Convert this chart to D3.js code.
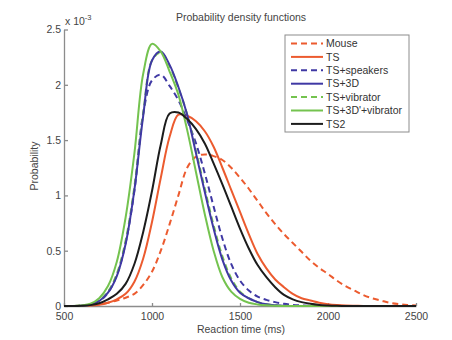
<!DOCTYPE html>
<html>
<head>
<meta charset="utf-8">
<script src="https://cdn.jsdelivr.net/npm/d3@7"></script>
<style>
  body { margin: 0; background: #fff; }
  svg { font-family: "Liberation Sans", Arial, sans-serif; }
  .axis path, .axis line { stroke: #8c8c8c; stroke-width: 1.3; }
  .axis text { fill: #444; font-size: 10.5px; }
</style>
</head>
<body>
<div id="chart"></div>
<script>
// reaction time sample points (ms)
const reactionTime = [500, 550, 600, 650, 700, 750, 800, 850, 900, 950, 1000, 1050, 1100, 1150, 1200,
    1250, 1300, 1350, 1400, 1450, 1500, 1550, 1600, 1650, 1700, 1750, 1800, 1850, 1900, 1950, 2000,
    2050, 2100, 2150, 2200, 2250, 2300, 2350, 2400, 2450, 2500];

// probability density, in units of 1e-3
const mouse = [0, 0, 0.002, 0.006, 0.015, 0.03, 0.05, 0.075, 0.11, 0.19, 0.31, 0.50, 0.74, 1.00, 1.25,
    1.35, 1.37, 1.355, 1.32, 1.25, 1.16, 1.06, 0.95, 0.84, 0.74, 0.65, 0.57, 0.49, 0.41, 0.345, 0.29,
    0.23, 0.18, 0.14, 0.10, 0.07, 0.05, 0.03, 0.018, 0.01, 0.005];
const ts = [0, 0, 0.001, 0.004, 0.012, 0.03, 0.06, 0.11, 0.22, 0.43, 0.76, 1.16, 1.53, 1.73, 1.72,
    1.67, 1.58, 1.44, 1.25, 1.05, 0.85, 0.65, 0.47, 0.34, 0.24, 0.17, 0.11, 0.07, 0.05, 0.03, 0.017,
    0.009, 0.004, 0.002, 0.001, 0, 0, 0, 0, 0, 0];
const tsSpeakers = [0, 0, 0.003, 0.012, 0.045, 0.12, 0.28, 0.57, 1.04, 1.74, 2.04, 2.09, 1.99, 1.86, 1.68,
    1.47, 1.20, 0.90, 0.61, 0.38, 0.23, 0.14, 0.085, 0.055, 0.035, 0.02, 0.01, 0.005, 0.002, 0.001, 0,
    0, 0, 0, 0, 0, 0, 0, 0, 0, 0];
const ts3d = [0, 0, 0.003, 0.012, 0.045, 0.12, 0.27, 0.56, 1.05, 1.72, 2.22, 2.30, 2.18, 1.98, 1.73,
    1.38, 1.03, 0.70, 0.42, 0.23, 0.12, 0.07, 0.035, 0.015, 0.006, 0.002, 0, 0, 0, 0, 0,
    0, 0, 0, 0, 0, 0, 0, 0, 0, 0];
const tsVibrator = [0, 0, 0.003, 0.013, 0.05, 0.13, 0.29, 0.59, 1.08, 1.74, 2.22, 2.29, 2.17, 1.97, 1.73,
    1.40, 1.06, 0.73, 0.45, 0.25, 0.13, 0.07, 0.035, 0.015, 0.006, 0.002, 0, 0, 0, 0, 0,
    0, 0, 0, 0, 0, 0, 0, 0, 0, 0];
const ts3dVibrator = [0, 0, 0.005, 0.02, 0.07, 0.18, 0.40, 0.80, 1.38, 2.10, 2.37, 2.30, 2.12, 1.91, 1.59,
    1.21, 0.83, 0.50, 0.26, 0.13, 0.065, 0.03, 0.014, 0.006, 0.002, 0, 0, 0, 0, 0, 0,
    0, 0, 0, 0, 0, 0, 0, 0, 0, 0];
const ts2 = [0, 0, 0.002, 0.008, 0.025, 0.06, 0.11, 0.20, 0.38, 0.67, 1.04, 1.46, 1.74, 1.75, 1.69,
    1.60, 1.47, 1.29, 1.10, 0.90, 0.70, 0.52, 0.37, 0.26, 0.17, 0.10, 0.06, 0.035, 0.02, 0.01, 0.005,
    0.002, 0, 0, 0, 0, 0, 0, 0, 0, 0];

const xTicks = [500, 1000, 1500, 2000, 2500];
const yTicks = [0, 0.5, 1, 1.5, 2, 2.5];

const seriesNames = ['Mouse', 'TS', 'TS+speakers', 'TS+3D', 'TS+vibrator', "TS+3D'+vibrator", 'TS2'];
const seriesValues = [mouse, ts, tsSpeakers, ts3d, tsVibrator, ts3dVibrator, ts2];
const seriesColors = ['#ec5b2f', '#ec5b2f', '#3f38a4', '#3f38a4', '#74c34f', '#74c34f', '#1c1c1c'];
const seriesDashed = [true, false, true, false, true, false, false];
// draw order (green dashed sits under the blue solid)
const drawOrder = [0, 1, 2, 4, 3, 5, 6];

const width = 452, height = 340;
const margin = {top: 29.5, right: 36, bottom: 34, left: 64};
const plotW = width - margin.left - margin.right;
const plotH = height - margin.top - margin.bottom;

const svg = d3.select('#chart').append('svg')
    .attr('width', width).attr('height', height);

const x = d3.scaleLinear().domain([500, 2500]).range([0, plotW]);
const y = d3.scaleLinear().domain([0, 2.5]).range([plotH, 0]);

const chart = svg.append('g')
    .attr('transform', `translate(${margin.left}, ${margin.top})`);

// axes, ticks pointing inwards
chart.append('g').attr('class', 'axis axis-x')
    .attr('transform', `translate(0, ${plotH})`)
    .call(d3.axisBottom(x).tickValues(xTicks).tickSize(-3).tickSizeOuter(0).tickPadding(5).tickFormat(d3.format('d')))
    .selectAll('text').attr('dy', '0.9em');

chart.append('g').attr('class', 'axis axis-y')
    .call(d3.axisLeft(y).tickValues(yTicks).tickSize(-4).tickSizeOuter(0).tickPadding(3).tickFormat(d => String(d)));

// curves
const line = d3.line()
    .x((d, i) => x(reactionTime[i]))
    .y(d => y(Math.max(0, d)))
    .curve(d3.curveCatmullRom.alpha(0.5));

chart.selectAll('.curve')
    .data(drawOrder)
    .enter()
    .append('path')
    .attr('class', 'curve')
    .attr('d', k => line(seriesValues[k]))
    .attr('fill', 'none')
    .attr('stroke', k => seriesColors[k])
    .attr('stroke-width', 2)
    .attr('stroke-dasharray', k => seriesDashed[k] ? '6,4' : null);

// exponent label
const expo = svg.append('text')
    .attr('x', margin.left + 1).attr('y', 25)
    .attr('fill', '#444').style('font-size', '10.5px');
expo.append('tspan').text('x 10');
expo.append('tspan').attr('dy', -5).style('font-size', '7.5px').text('-3');

// title and axis labels
svg.append('text')
    .attr('x', 241).attr('y', 21)
    .attr('text-anchor', 'middle')
    .attr('fill', '#444').style('font-size', '10.5px')
    .text('Probability density functions');

svg.append('text')
    .attr('x', 241).attr('y', 333)
    .attr('text-anchor', 'middle')
    .attr('fill', '#444').style('font-size', '10.5px')
    .text('Reaction time (ms)');

svg.append('text')
    .attr('transform', 'translate(38, 166) rotate(-90)')
    .attr('text-anchor', 'middle')
    .attr('fill', '#444').style('font-size', '10.5px')
    .text('Probability');

// legend
const legend = svg.append('g').attr('transform', 'translate(285, 35)');
legend.append('rect')
    .attr('width', 124).attr('height', 97)
    .attr('fill', '#fff').attr('stroke', '#8c8c8c').attr('stroke-width', 1);

const rows = legend.selectAll('.row')
    .data(seriesNames)
    .enter()
    .append('g')
    .attr('class', 'row')
    .attr('transform', (d, i) => `translate(0, ${8.5 + i * 13.4})`);

rows.append('line')
    .attr('x1', 6).attr('x2', 38)
    .attr('stroke', (d, i) => seriesColors[i])
    .attr('stroke-width', 2)
    .attr('stroke-dasharray', (d, i) => seriesDashed[i] ? '6,4' : null);

rows.append('text')
    .attr('x', 41).attr('dy', '0.35em')
    .attr('fill', '#333').style('font-size', '10.5px')
    .text(d => d);
</script>
</body>
</html>
